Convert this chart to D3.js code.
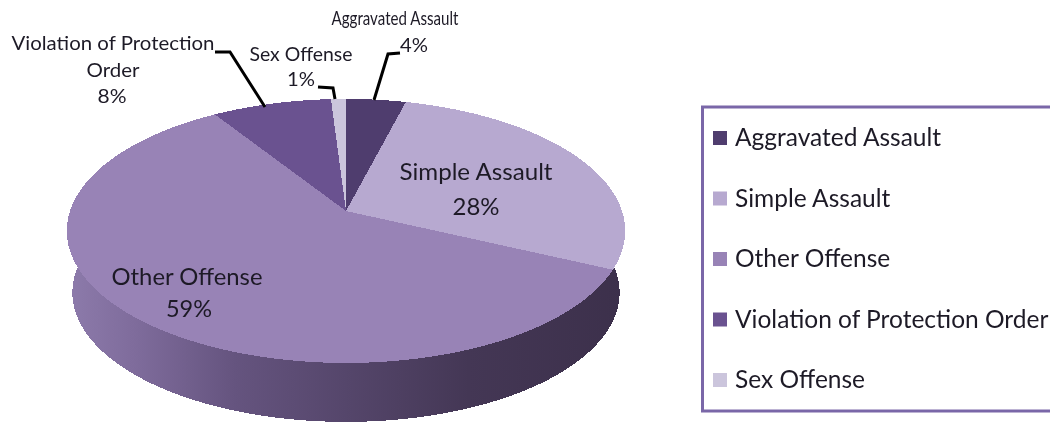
<!DOCTYPE html>
<html>
<head>
<meta charset="utf-8">
<script src="https://cdn.jsdelivr.net/npm/d3@7"></script>
<style>
html,body{margin:0;padding:0;background:#fff;overflow:hidden}
svg{filter:blur(0.35px)}
text{font-family:Lato,"Open Sans",sans-serif;fill:#1d1a26}
.wall,.slice{shape-rendering:crispEdges}
</style>
</head>
<body>
<svg id="chart" width="1050" height="424"></svg>
<script>
var categories=["Aggravated Assault","Simple Assault","Other Offense","Violation of Protection Order","Sex Offense"]
var shares=[4,28,59,8,1]
var sliceColors=["#4f3d6e","#b7a9d0","#9883b6","#6a5290","#cbc5dc"]

var svg=d3.select("#chart")

//--------PIE GEOMETRY (tilted disc with a little perspective)---------
var apex={x:346,y:211}
var rx=276, ry=129, kv=0.151
var wallDrop=62, wallScale=0.98

function project(angle,drop,scale){
    var u=Math.sin(angle), v=-Math.cos(angle)
    var d=1-kv*v
    return [apex.x+scale*rx*u/d, apex.y+drop+scale*ry*v/d]
}
function rim(a0,a1,drop,scale){
    var n=Math.max(2,Math.ceil(Math.abs(a1-a0)/0.01))
    return d3.range(n+1).map(function(i){
        return project(a0+(a1-a0)*i/n,drop,scale)
    })
}
var line=d3.line()
var arcs=d3.pie().sort(null).value(function(d){return d})(shares)

//--------WALL GRADIENT---------
var defs=svg.append("defs")
var grad=defs.append("linearGradient").attr("id","wall")
    .attr("gradientUnits","userSpaceOnUse")
    .attr("x1",67).attr("x2",625).attr("y1",0).attr("y2",0)
grad.selectAll("stop")
    .data([[0,"#8d7bab"],[0.12,"#7f6c9c"],[0.3,"#65547f"],[0.5,"#55466b"],[0.72,"#443755"],[1,"#3c304b"]])
    .enter().append("stop")
    .attr("offset",function(d){return d[0]})
    .attr("stop-color",function(d){return d[1]})

//--------WALLS THEN TOP FACES---------
svg.selectAll("path.wall")
    .data(arcs)
    .enter()
    .append("path")
    .attr("class","wall")
    .attr("fill","url(#wall)")
    .attr("d",function(d){
        var top=rim(d.startAngle,d.endAngle,0,1)
        var bottom=rim(d.endAngle,d.startAngle,wallDrop,wallScale)
        return line(top.concat(bottom))+"Z"
    })

svg.selectAll("path.slice")
    .data(arcs)
    .enter()
    .append("path")
    .attr("class","slice")
    .attr("fill",function(d,i){return sliceColors[i]})
    .attr("d",function(d){
        return line([[apex.x,apex.y]].concat(rim(d.startAngle,d.endAngle,0,1)))+"Z"
    })

//--------LEADER LINES---------
var leaders=[
    [[215,52],[230,52],[265,107]],
    [[318,87],[333,88],[335,99]],
    [[400,53],[388,54],[374,100]]
]
svg.selectAll("path.leader")
    .data(leaders)
    .enter()
    .append("path")
    .attr("class","leader")
    .attr("fill","none")
    .attr("stroke","#000")
    .attr("stroke-width",3)
    .attr("d",line)

//--------DATA LABELS---------
function label(t,x,y,size,len){
    svg.append("text")
        .attr("x",x)
        .attr("y",y)
        .attr("text-anchor","middle")
        .attr("font-size",size)
        .attr("textLength",len)
        .attr("lengthAdjust","spacingAndGlyphs")
        .text(t)
}
label(categories[0],395,25,19,127)
label(shares[0]+"%",414,52,19,28)
label("Sex Offense",301,61,18.5,103)
label(shares[4]+"%",301,86,19,28)
label("Violation of Protection",113,50,19,203)
label("Order",113,77,19,53)
label(shares[3]+"%",112,103,19,29)
label(categories[1],476,180,23.5,153)
label(shares[1]+"%",476,215,24,47)
label(categories[2],187,285,23.5,151)
label(shares[2]+"%",189,317,24,46)

//--------LEGEND---------
svg.append("rect")
    .attr("x",702.5).attr("y",107)
    .attr("width",400).attr("height",304)
    .attr("fill","#fff")
    .attr("stroke","#7a67a8")
    .attr("stroke-width",3)

var legendY=d3.scalePoint().domain(categories).range([138,380])
var legend=svg.selectAll("g.legend")
    .data(categories)
    .enter()
    .append("g")
    .attr("class","legend")
    .attr("transform",function(d){return "translate(0,"+legendY(d)+")"})
legend.append("rect")
    .attr("x",713).attr("y",-7)
    .attr("width",14).attr("height",14)
    .attr("fill",function(d,i){return sliceColors[i]})
legend.append("text")
    .attr("x",735).attr("y",8)
    .attr("font-size",24.5)
    .text(function(d){return d})
</script>
</body>
</html>
